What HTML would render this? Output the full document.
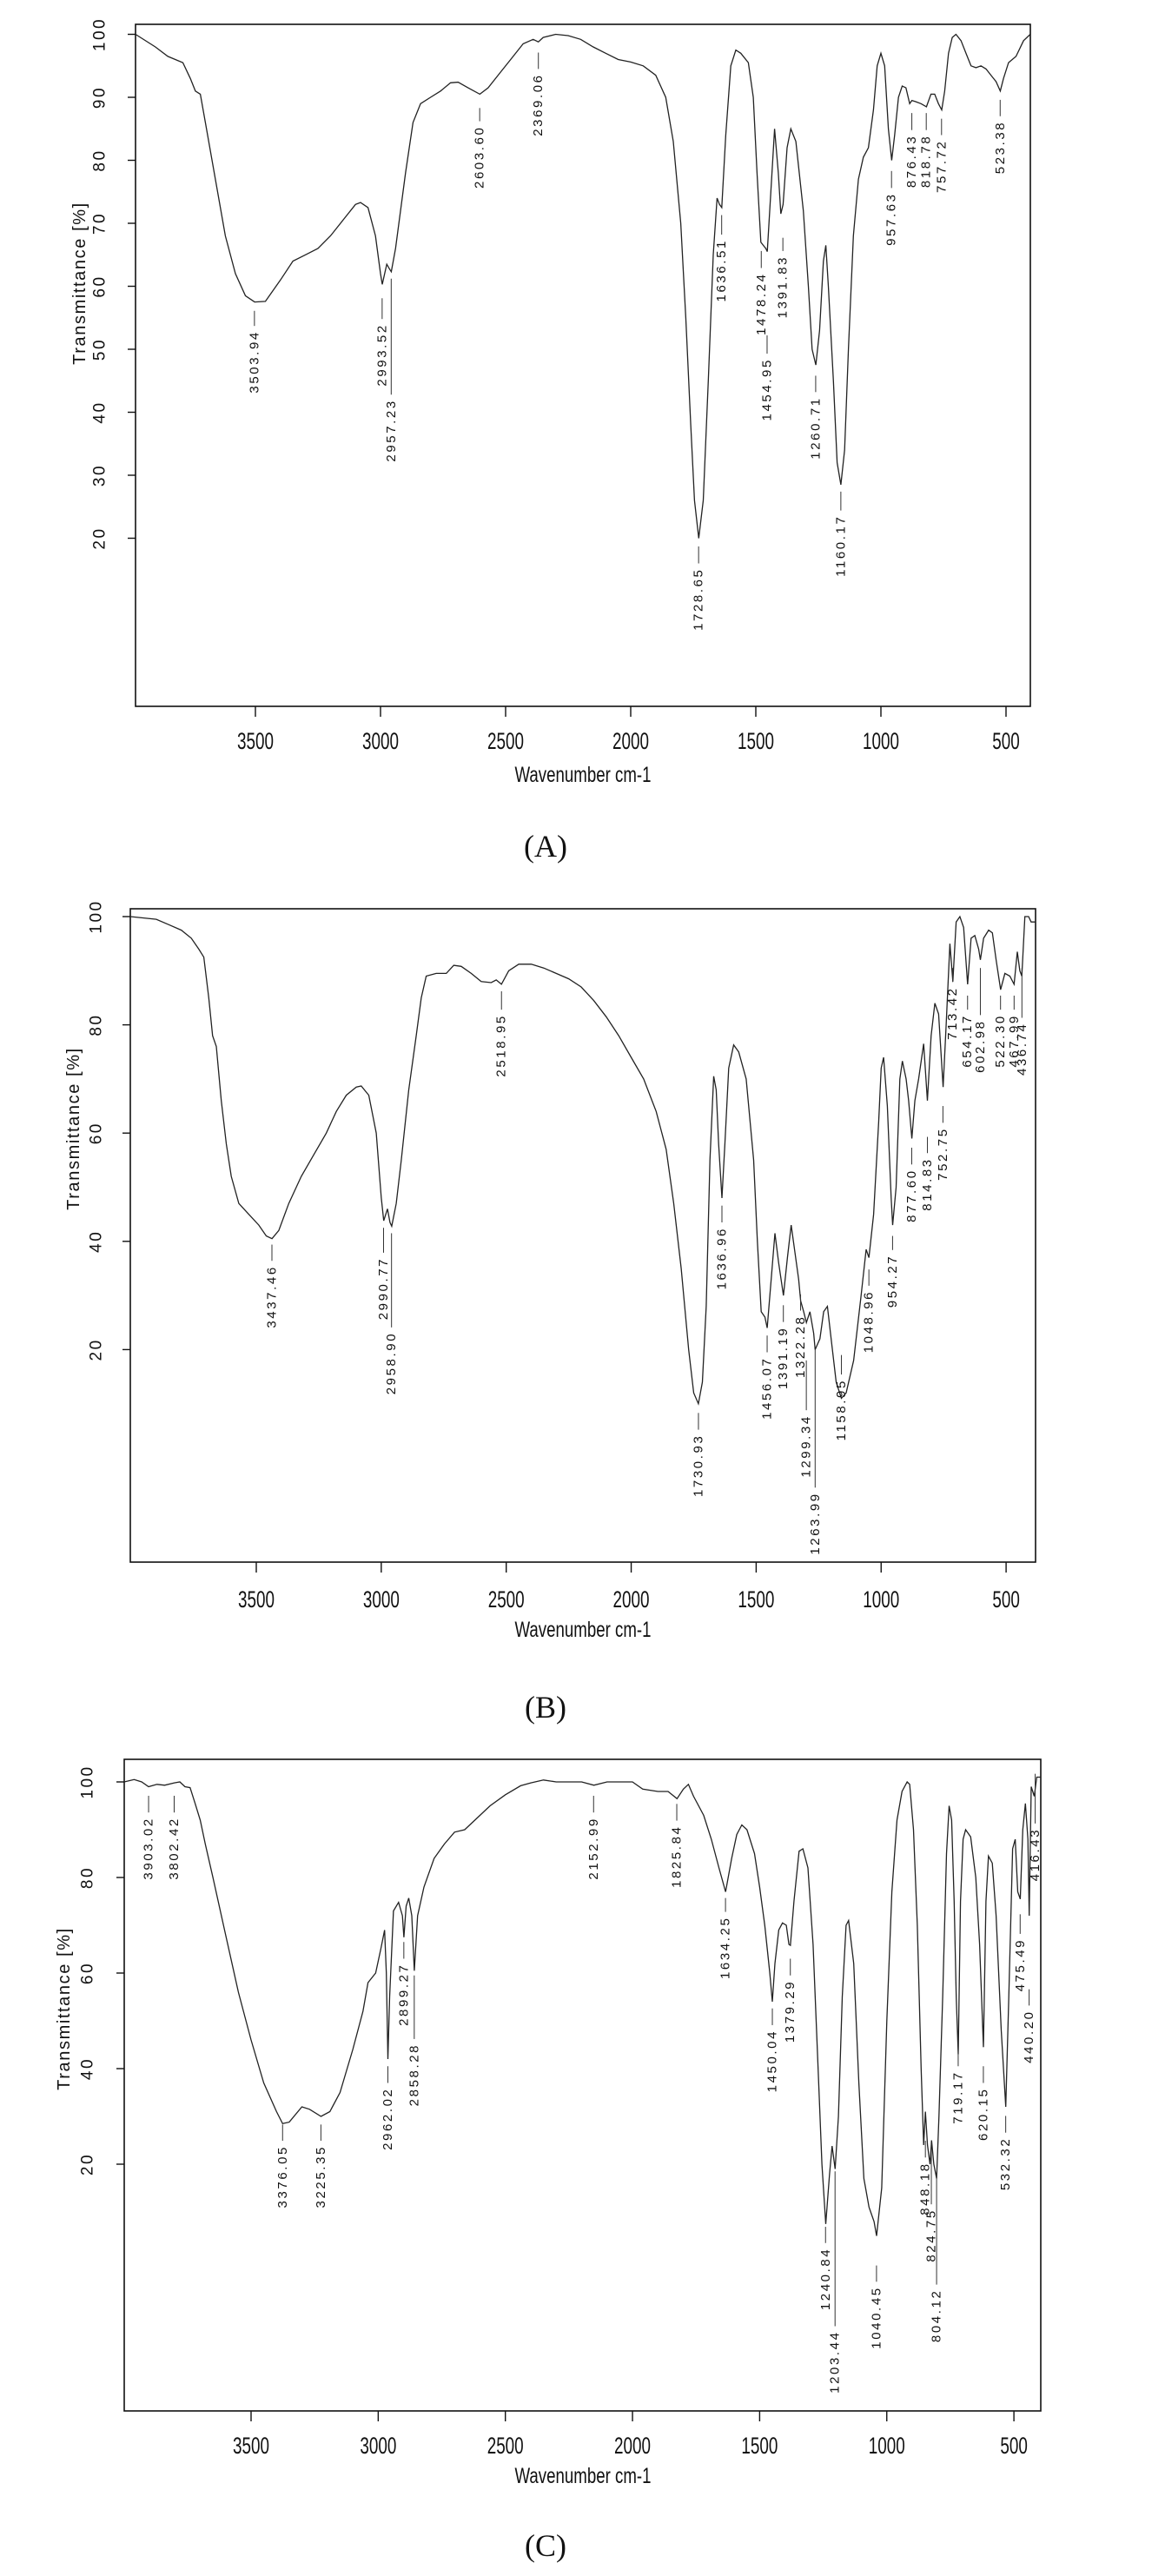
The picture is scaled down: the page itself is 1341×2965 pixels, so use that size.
<!DOCTYPE html>
<html><head><meta charset="utf-8">
<style>
html,body{margin:0;padding:0;background:#fff;}
svg{display:block;}
text{font-family:"Liberation Sans",Arial,sans-serif;fill:#111;}
.cap{font-family:"Liberation Serif","Times New Roman",serif;font-size:36px;}
</style></head>
<body>
<svg id="fig" width="1341" height="2965" viewBox="0 0 1341 2965" xmlns="http://www.w3.org/2000/svg">
<text class="cap" x="628" y="986" text-anchor="middle">(A)</text>
<text class="cap" x="628" y="1977" text-anchor="middle">(B)</text>
<text class="cap" x="628" y="2942" text-anchor="middle">(C)</text>
</svg>
<script>
// ---- Spectrum A ----
var specAW=[3979,3900,3850,3790,3760,3740,3720,3700,3660,3620,3580,3540,3503,3460,3400,3350,3300,3250,3200,3150,3100,3080,3050,3020,3000,2993,2975,2965,2957,2940,2900,2870,2840,2800,2760,2720,2690,2650,2603,2570,2520,2480,2430,2390,2369,2350,2300,2250,2200,2150,2100,2050,2000,1950,1900,1860,1830,1800,1780,1760,1745,1728,1710,1690,1670,1655,1645,1636,1620,1600,1580,1560,1530,1510,1495,1480,1470,1460,1454,1440,1425,1410,1400,1391,1375,1360,1340,1310,1290,1275,1260,1245,1230,1220,1210,1190,1175,1160,1145,1130,1110,1090,1070,1050,1030,1015,1000,985,970,957,945,930,915,900,885,876,860,840,818,800,785,770,757,745,730,715,700,680,660,640,620,600,580,560,540,523,510,490,460,430,403];
var specAT=[100,98,96.5,95.5,93,91,90.5,86,77,68,62,58.5,57.5,57.6,61,64,65,66,68,70.5,73,73.3,72.5,68,62,60.3,63.5,62.8,62.3,66,78,86,89,90,91,92.3,92.4,91.5,90.5,91.5,94,96,98.5,99.2,98.8,99.5,100,99.8,99.2,98,97,96,95.6,95,93.5,90,83,70,55,38,26,20,26,45,65,74,73,72.5,84,95,97.5,97,95.5,90,78,67,66.5,66,65.5,75,85,78,71.5,73,82,85,83,72,60,50,47.5,53,64,66.5,60,45,32,28.5,34,50,68,77,80.5,82,88,95,97,95,85,80,84,90,91.8,91.5,89,89.5,89.3,89,88.5,90.5,90.5,89,88,91,97,99.5,100,99,97,95,94.7,95,94.5,93.5,92.5,91,93,95.5,96.5,99,100];
var peaksAW=[3503.94,2993.52,2957.23,2603.60,2369.06,1728.65,1636.51,1478.24,1454.95,1391.83,1260.71,1160.17,957.63,876.43,818.78,757.72,523.38];
var peaksATop=[56.1,58.1,61.2,88.3,97.1,18.7,71.3,65.6,52.2,67.7,45.8,27.4,78.3,87.5,87.5,86.6,89.6];
var peaksABot=[53.7,54.8,42.8,86.2,94.5,16,68.2,62.9,49.3,65.6,43.2,24.4,75.6,84.8,84.8,84,87];
var yTicksA=[20,30,40,50,60,70,80,90,100];
var xTicksA=[3500,3000,2500,2000,1500,1000,500];

// ---- Spectrum B ----
var specBW=[4004,3900,3850,3800,3760,3730,3710,3690,3675,3660,3640,3620,3600,3570,3530,3490,3460,3437,3410,3370,3320,3270,3220,3180,3140,3100,3080,3050,3020,3000,2990,2975,2965,2958,2940,2920,2890,2860,2840,2820,2780,2740,2710,2680,2640,2600,2560,2540,2519,2490,2450,2400,2350,2300,2250,2200,2150,2100,2050,2000,1950,1900,1860,1830,1800,1770,1750,1731,1715,1700,1685,1670,1660,1650,1637,1625,1610,1590,1570,1540,1510,1495,1480,1465,1456,1440,1425,1410,1391,1375,1360,1345,1330,1322,1310,1299,1285,1270,1264,1245,1230,1215,1200,1180,1159,1140,1110,1080,1060,1049,1030,1010,1000,990,975,960,954,940,925,915,900,890,877,865,850,830,815,800,785,770,752,740,725,713,700,685,670,654,640,625,610,603,590,570,555,540,522,505,485,468,455,445,437,425,410,400,382];
var specBT=[100,99.5,98.5,97.5,96,94,92.5,85,78,76,66,58,52,47,45,43,41,40.5,42,47,52,56,60,64,67,68.5,68.7,67,60,48,43.8,46,43.5,42.8,47,55,68,78,85,89,89.5,89.5,91,90.8,89.5,88,87.8,88.3,87.5,90,91.2,91.2,90.5,89.5,88.5,87,84.5,81.5,78,74,70,64,57,47,35,20,12,10,14,28,55,70.5,68,58,48,58,72,76.3,75,70,55,40,27,26,24,33,41.5,36,30,37,43,38,33,29,27,25,27,23,20,22,27,28,22,14,11,12,18,30,38.5,37,45,62,72,74,65,48,43,50,70,73.3,70,66,59,66,70,76.5,66,78,84,82,68.5,80,95,88,99,100,98,87.5,96,96.5,94,92,96,97.5,97,92,86.5,89.5,89,87.5,93.5,90,89,100,100,99,99];
var peaksBW=[3437.46,2990.77,2958.90,2518.95,1730.93,1636.96,1456.07,1391.19,1322.28,1299.34,1263.99,1158.95,1048.96,954.27,877.60,814.83,752.75,713.42,654.17,602.98,522.30,467.99,436.74];
var peaksBTop=[39.4,42.5,41.5,86.2,8.3,46.6,22.6,28.2,30.2,18,20,19,34.8,41,57.3,59.3,65,90.5,85.4,90.5,85.4,85.4,90.5];
var peaksBBot=[36.4,37.9,24.1,82.8,5.2,43.5,19.5,25.1,27.2,8.8,-5.5,15.4,31.8,38.4,54.2,56.3,61.9,87.9,82.8,81.8,82.8,82.8,81.3];
var yTicksB=[20,40,60,80,100];
var xTicksB=[3500,3000,2500,2000,1500,1000,500];

// ---- Spectrum C ----
var specCW=[3999,3960,3930,3903,3870,3840,3802,3780,3760,3740,3720,3700,3680,3650,3600,3550,3500,3450,3400,3376,3350,3300,3270,3225,3190,3150,3100,3060,3040,3010,2990,2975,2968,2962,2955,2940,2920,2905,2899,2890,2880,2868,2858,2845,2820,2780,2740,2700,2660,2620,2560,2500,2440,2400,2350,2300,2200,2152,2100,2000,1960,1900,1860,1825,1800,1780,1760,1720,1690,1660,1634,1610,1590,1570,1550,1520,1500,1480,1460,1450,1440,1425,1410,1395,1385,1379,1365,1345,1330,1310,1290,1270,1255,1240,1225,1215,1203,1190,1175,1160,1150,1130,1110,1090,1070,1050,1040,1020,1000,980,960,940,920,910,895,880,865,855,848,840,830,824,815,804,795,780,765,755,745,735,727,719,710,700,690,670,650,635,620,610,600,585,570,550,532,520,505,495,485,475,465,455,445,440,432,420,410,394];
var specCT=[100,100.5,100,99,99.5,99.3,99.8,100,99,98.8,95.5,92,87,80,68,56,46,37,31,28.5,28.8,32,31.5,30,31,35,44,52,58,60,65,69,60,42,55,73,74.8,72,67.5,74,75.7,72,60.5,72,78,84,87,89.5,90,92,95,97.3,99.2,99.8,100.4,100,100,99.3,100,100,98.5,98,98,96.5,98.5,99.5,97,93,88,82,77,84,89,91,90,85,78,70,60,54,62,69,70.5,70,66,65.8,75,85.5,86,82,66,40,20,7.5,18,23.8,19,30,55,70,71,62,37,17,11,8,5,15,50,77,92,98,100,99.5,90,70,40,24,31,24,20,25,20,17,30,55,85,95,92,75,55,43,75,88,90,88.5,80,66,44.5,75,84.5,83,72,48,32,55,86,88,77,75.5,90,95.5,88,72,99,97,101,101];
var peaksCW=[3903.02,3802.42,3376.05,3225.35,2962.02,2899.27,2858.28,2152.99,1825.84,1634.25,1450.04,1379.29,1240.84,1203.44,1040.45,848.18,824.75,804.12,719.17,620.15,532.32,475.49,440.20,416.43];
var peaksCTop=[97.1,97.1,28.3,28.3,40.5,66.5,59.5,97.1,95.4,75.7,52.6,63,6.9,18.5,-1.2,24.9,24.3,17.9,43.9,40.5,30.1,72.3,56.6,101.7];
var peaksCBot=[93.6,93.6,24.9,24.9,37,63,46.2,93.6,91.9,72.8,49.1,59.5,3.5,-13.9,-4.6,21.4,11.6,-5.2,40.5,37,26.6,68.2,53.2,91.3];
var yTicksC=[20,40,60,80,100];
var xTicksC=[3500,3000,2500,2000,1500,1000,500];

var NS='http://www.w3.org/2000/svg';
var svg=document.getElementById('fig');
function mk(tag,parent){var e=document.createElementNS(NS,tag);parent.appendChild(e);return e;}

function drawPanel(p,W,T,pW,pTop,pBot,yT,xT){
  var g=mk('g',svg);
  
  
  function X(w){return p.x0+(p.w0-w)*p.kx;}
  function Y(t){return p.y0+(100-t)*p.ky;}
  var fr=mk('rect',g);
  
  
  fr.setAttribute('x',p.l);fr.setAttribute('y',p.t);
  fr.setAttribute('width',p.r-p.l);fr.setAttribute('height',p.b-p.t);
  fr.setAttribute('fill','none');fr.setAttribute('stroke','#111');fr.setAttribute('stroke-width','1.6');
  yT.forEach(function(v){
    var y=Y(v);
    var tk=mk('line',g);
    
    
    tk.setAttribute('x1',p.l-9);tk.setAttribute('x2',p.l);tk.setAttribute('y1',y);tk.setAttribute('y2',y);
    tk.setAttribute('stroke','#111');tk.setAttribute('stroke-width','1.4');
    var tx=mk('text',g);
    
    
    tx.setAttribute('transform','translate('+p.ylx+','+y+') rotate(-90)');
    tx.setAttribute('text-anchor','middle');tx.setAttribute('dominant-baseline','central');
    tx.setAttribute('font-size','19');tx.setAttribute('letter-spacing','2.5');
    tx.textContent=v;
  });
  xT.forEach(function(v){
    var x=X(v);
    var tk=mk('line',g);
    
    
    tk.setAttribute('x1',x);tk.setAttribute('x2',x);tk.setAttribute('y1',p.b);tk.setAttribute('y2',p.b+12);
    tk.setAttribute('stroke','#111');tk.setAttribute('stroke-width','1.4');
    var tx=mk('text',g);
    
    
    tx.setAttribute('x',x);tx.setAttribute('y',p.xly+10);
    tx.setAttribute('text-anchor','middle');tx.setAttribute('font-size','27');
    var s=String(v);
    tx.setAttribute('textLength',s.length*10.5);tx.setAttribute('lengthAdjust','spacingAndGlyphs');
    tx.textContent=s;
  });
  var xt=mk('text',g);
  
  
  xt.setAttribute('x',671);xt.setAttribute('y',p.xty+9);xt.setAttribute('text-anchor','middle');
  xt.setAttribute('font-size','25');xt.setAttribute('textLength','157');xt.setAttribute('lengthAdjust','spacingAndGlyphs');
  xt.textContent='Wavenumber cm-1';
  var yt=mk('text',g);
  
  
  yt.setAttribute('transform','translate('+p.ytx+','+p.yty+') rotate(-90)');
  yt.setAttribute('text-anchor','middle');yt.setAttribute('dominant-baseline','central');
  yt.setAttribute('font-size','20');yt.setAttribute('letter-spacing','1.6');
  yt.textContent='Transmittance [%]';
  var d='';
  for(var i=0;i<W.length;i++){d+=(i?'L':'M')+X(W[i]).toFixed(1)+' '+Y(T[i]).toFixed(1);}
  var path=mk('path',g);
  
  
  path.setAttribute('d',d);path.setAttribute('fill','none');path.setAttribute('stroke','#222');path.setAttribute('stroke-width','1.3');
  pW.forEach(function(w,i){
    var x=X(w),y1=Y(pTop[i]),y2=Y(pBot[i]);
    var ln=mk('line',g);
    
    
    ln.setAttribute('x1',x);ln.setAttribute('x2',x);ln.setAttribute('y1',y1);ln.setAttribute('y2',y2);
    ln.setAttribute('stroke','#333');ln.setAttribute('stroke-width','1');
    var tx=mk('text',g);
    
    
    tx.setAttribute('transform','translate('+x+','+(y2+5)+') rotate(-90)');
    tx.setAttribute('text-anchor','end');tx.setAttribute('dominant-baseline','central');
    tx.setAttribute('font-size','15');tx.setAttribute('letter-spacing','2.6');
    tx.textContent=w.toFixed(2);
  });
}

drawPanel({name:'spectrum-a',l:156,r:1186,t:28,b:813,x0:1014,w0:1000,kx:0.288,y0:39.5,ky:7.25,ylx:115,xly:852,xty:891,ytx:92,yty:326},
  specAW,specAT,peaksAW,peaksATop,peaksABot,yTicksA,xTicksA);
drawPanel({name:'spectrum-b',l:150,r:1192,t:1046,b:1798,x0:295,w0:3500,kx:0.2877,y0:1055,ky:6.23,ylx:111,xly:1840,xty:1875,ytx:85,yty:1299},
  specBW,specBT,peaksBW,peaksBTop,peaksBBot,yTicksB,xTicksB);
drawPanel({name:'spectrum-c',l:143,r:1198,t:2025,b:2775,x0:289,w0:3500,kx:0.2927,y0:2051,ky:5.5,ylx:101,xly:2814,xty:2849,ytx:74,yty:2312},
  specCW,specCT,peaksCW,peaksCTop,peaksCBot,yTicksC,xTicksC);
</script>
</body></html>
